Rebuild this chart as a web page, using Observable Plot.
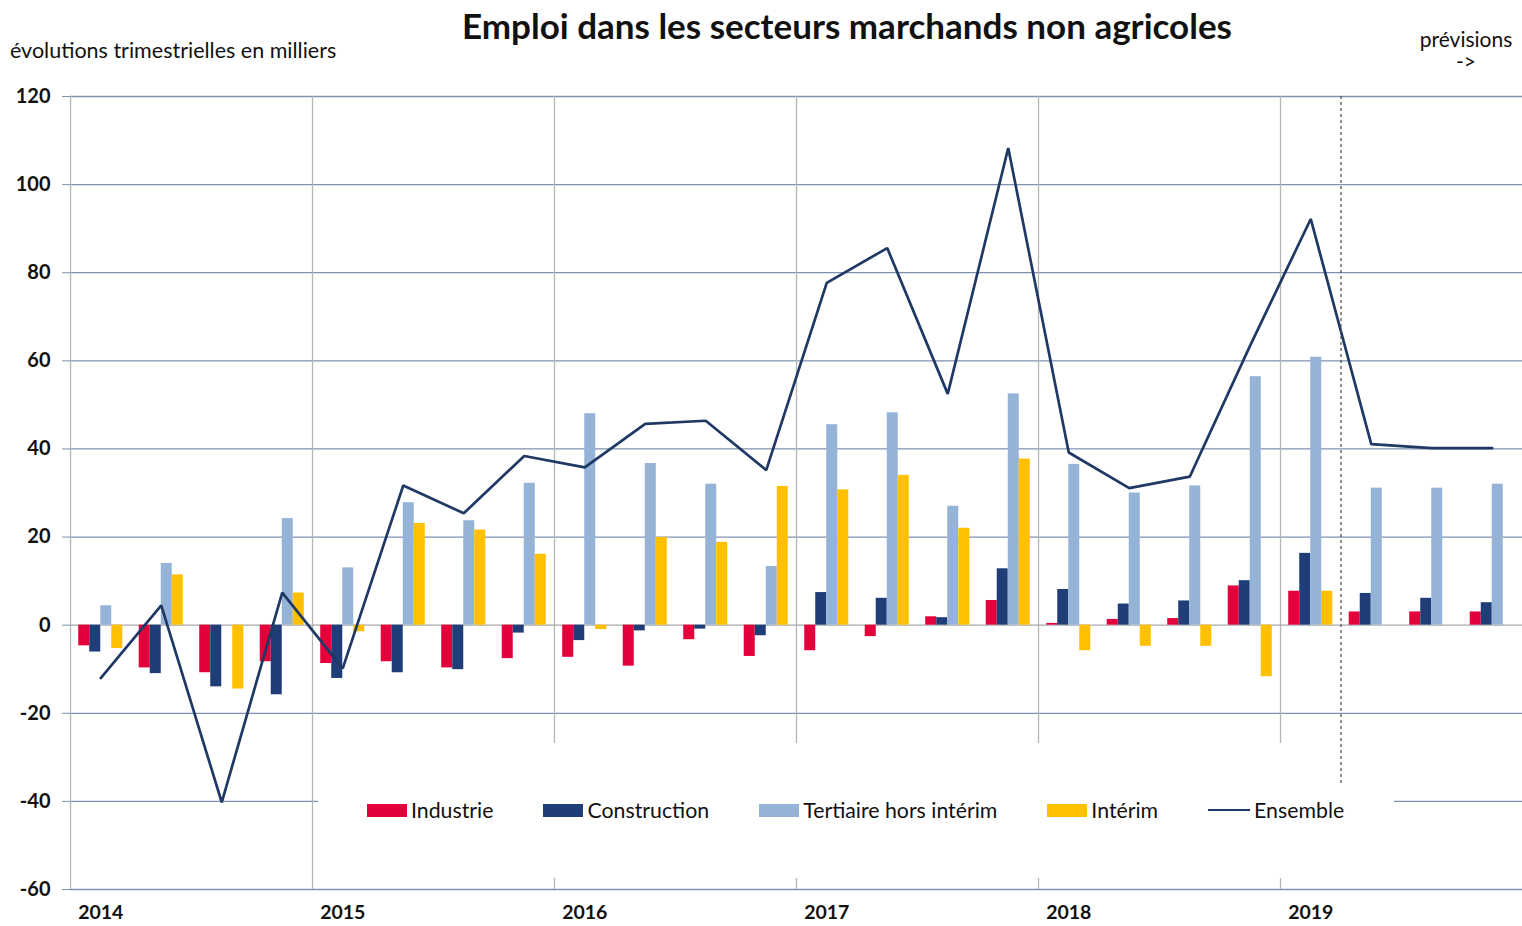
<!DOCTYPE html>
<html>
<head>
<meta charset="utf-8">
<script src="https://cdn.jsdelivr.net/npm/d3@7"></script>
<script src="https://cdn.jsdelivr.net/npm/@observablehq/plot@0.6"></script>
<style>
  html, body { margin: 0; padding: 0; background: #fff; overflow: hidden; }
  #wrap { position: relative; width: 1522px; height: 926px; font-family: Lato, "Open Sans", sans-serif; color: #111; }
  #chart { position: absolute; left: 0; top: 0; }
  .title { position: absolute; left: 847px; top: 4px; transform: translateX(-50%); white-space: nowrap; font-size: 35px; font-weight: bold; }
  .subtitle { position: absolute; left: 10px; top: 37px; white-space: nowrap; font-size: 21.5px; }
  .prev { position: absolute; left: 1416px; width: 100px; text-align: center; font-size: 21px; line-height: 21px; }
  .legend { position: absolute; left: 367px; top: 797px; height: 26px; display: flex; align-items: center; gap: 50px; font-size: 21.3px; white-space: nowrap; }
  .item { display: flex; align-items: center; }
  .sw { width: 40px; height: 13px; margin-right: 4px; }
  .ln { width: 42px; height: 2.6px; margin-right: 4px; }
</style>
</head>
<body>
<div id="wrap">
  <div id="chart"></div>
  <div class="title">Emploi dans les secteurs marchands non agricoles</div>
  <div class="subtitle">évolutions trimestrielles en milliers</div>
  <div class="prev" style="top:28px">prévisions</div>
  <div class="prev" style="top:50px">-&gt;</div>
  <div class="legend" id="legend"></div>
</div>
<script>
// ---- Data ----
const years = [2014, 2015, 2016, 2017, 2018, 2019];
const quarterLabels = years.flatMap(y => [1, 2, 3, 4].map(q => `${y}T${q}`));
const seriesNames = ["Industrie", "Construction", "Tertiaire hors intérim", "Intérim"];
const lineName = "Ensemble";

const industrie    = [-4.7, -9.7, -10.8, -8.3,  -8.7, -8.3, -9.7, -7.6,  -7.3, -9.3, -3.3, -7.1,  -5.8, -2.6, 1.9, 5.6,  0.4, 1.3, 1.5, 8.9,  7.7, 3.0, 3.0, 3.0];
const construction = [-6.1, -11.0, -14.0, -15.8, -12.1, -10.8, -10.1, -1.8,  -3.5, -1.3, -0.9, -2.4,  7.4, 6.1, 1.7, 12.8,  8.1, 4.8, 5.5, 10.1,  16.3, 7.2, 6.1, 5.1];
const tertiaire    = [4.4, 14.0, 0, 24.2,  13.0, 27.8, 23.7, 32.2,  48.0, 36.7, 32.0, 13.3,  45.5, 48.2, 27.0, 52.5,  36.5, 30.0, 31.6, 56.4,  60.8, 31.1, 31.1, 32.0];
const interim      = [-5.3, 11.4, -14.5, 7.3,  -1.5, 23.1, 21.6, 16.1,  -1.0, 19.9, 18.8, 31.5,  30.7, 34.0, 22.0, 37.7,  -5.8, -4.8, -4.8, -11.7,  7.7, 0, 0, 0];
const ensemble     = [-12.0, 4.5, -40.2, 7.4,  -9.8, 31.7, 25.4, 38.4,  35.8, 45.7, 46.4, 35.2,  77.7, 85.6, 52.5, 108.3,  39.2, 31.1, 33.7, 63.5,  92.2, 41.1, 40.2, 40.2];

const yTicks = [-60, -40, -20, 0, 20, 40, 60, 80, 100, 120];
const forecastStart = 21;          // first forecast quarter: 2019T2
const forecastRuleBottom = -36.5;  // lower end of the dotted forecast marker

// ---- Styles ----
const seriesColors = ["#e4003b", "#1f3e78", "#95b3d7", "#ffc000"];
const lineColor = "#1f3864";
const gridColor = "#7f91b1";
const vGridColor = "#b5b5b5";
const zeroColor = "#a8a8a8";

// ---- Table ----
const valuesBySeries = [industrie, construction, tertiaire, interim];
const barWidth = 0.182;
const rows = [];
quarterLabels.forEach((q, i) => valuesBySeries.forEach((vals, k) => rows.push({ i, q, k, series: seriesNames[k], value: vals[i] })));
const linePts = quarterLabels.map((q, i) => ({ i, q, value: ensemble[i] }));

const chart = Plot.plot({
  width: 1522,
  height: 926,
  marginLeft: 70,
  marginRight: 0,
  marginTop: 96,
  marginBottom: 37,
  style: { fontFamily: "Lato, 'Open Sans', sans-serif", color: "#111", background: "transparent" },
  x: { type: "linear", domain: [0, quarterLabels.length], axis: null },
  y: { domain: [yTicks[0], yTicks[yTicks.length - 1]], axis: null },
  color: { domain: seriesNames, range: seriesColors },
  marks: [
    Plot.ruleY(yTicks.filter(t => t !== 0), { stroke: gridColor, strokeWidth: 1.3 }),
    Plot.ruleX(years.map((y, j) => j * 4), { stroke: vGridColor, strokeWidth: 1.3 }),
    Plot.ruleY([0], { stroke: zeroColor, strokeWidth: 1.3 }),
    Plot.axisY(yTicks, { label: null, tickFormat: d => String(d), tickSize: 8, tickPadding: 12, fontSize: 20, fontWeight: "bold", stroke: gridColor, fill: "#111" }),
    Plot.axisX(years.map((y, j) => j * 4 + 0.5), {
      label: null,
      tickFormat: d => String(years[Math.round((d - 0.5) / 4)]),
      tickSize: 0, tickPadding: 16, fontSize: 19.5, fontWeight: "bold", fill: "#111"
    }),
    Plot.rect(rows, {
      x1: d => d.i + 0.5 + (d.k - 2) * barWidth,
      x2: d => d.i + 0.5 + (d.k - 1) * barWidth,
      y1: 0,
      y2: "value",
      fill: "series"
    }),
    Plot.line(linePts, { x: d => d.i + 0.5, y: "value", stroke: lineColor, strokeWidth: 2.7, strokeLinejoin: "miter" }),
    Plot.ruleX([forecastStart], { y1: yTicks[yTicks.length - 1], y2: forecastRuleBottom, stroke: "#555", strokeWidth: 1.3, strokeDasharray: "3,3" })
  ]
});
document.getElementById("chart").appendChild(chart);

// white legend panel behind the legend texts, drawn under the forecast marker (last rule group)
const svgNS = "http://www.w3.org/2000/svg";
const panel = document.createElementNS(svgNS, "rect");
panel.setAttribute("x", 318);
panel.setAttribute("y", 743);
panel.setAttribute("width", 1076);
panel.setAttribute("height", 135);
panel.setAttribute("fill", "#fff");
const ruleGroups = chart.querySelectorAll('g[aria-label="rule"]');
const fg = ruleGroups[ruleGroups.length - 1];
if (fg) fg.parentNode.insertBefore(panel, fg); else chart.appendChild(panel);

// legend
const legend = document.getElementById("legend");
seriesNames.forEach((name, k) => {
  const it = document.createElement("div");
  it.className = "item";
  it.innerHTML = `<div class="sw" style="background:${seriesColors[k]}"></div><span>${name}</span>`;
  legend.appendChild(it);
});
const li = document.createElement("div");
li.className = "item";
li.innerHTML = `<div class="ln" style="background:${lineColor}"></div><span>${lineName}</span>`;
legend.appendChild(li);
</script>
</body>
</html>
